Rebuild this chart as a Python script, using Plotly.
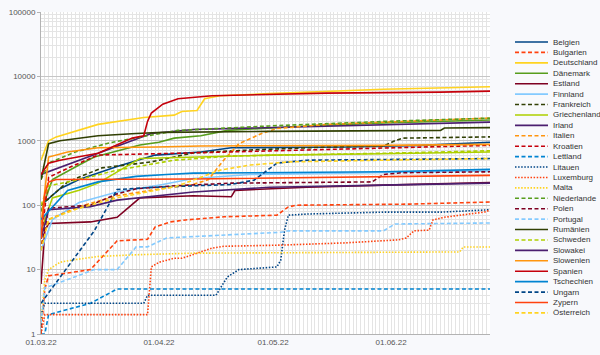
import plotly.graph_objects as go
from datetime import date, timedelta

START = date(2022, 3, 1)
END_DAY = 118


def dates(days):
    return [(START + timedelta(days=n)).isoformat() for n in days]


# ---- data (day offset from 01.03.22, value) ----
belgien_days = [0, 5, 10, 20, 30, 42, 50, 80, 100, 118]
belgien_vals = [100, 180, 250, 400, 600, 670, 780, 800, 850, 950]

bulgarien_days = [0, 1, 2, 13, 20, 28, 30, 34, 38, 48, 62, 65, 67, 97, 118]
bulgarien_vals = [1, 5, 8, 10, 28, 29.5, 46, 55, 59, 66, 70, 94, 100, 104, 112]

deutschland_days = [0, 2, 4, 15, 27, 35, 37, 41, 43, 47, 60, 75, 90, 118]
deutschland_vals = [500, 1000, 1150, 1800, 2300, 2500, 2850, 2950, 4500, 5000, 5400, 5900, 6300, 6900]

daenemark_days = [0, 3, 10, 14, 26, 31, 35, 42, 49, 70, 90, 118]
daenemark_vals = [80, 250, 420, 560, 860, 950, 1100, 1200, 1450, 1700, 1900, 2100]

estland_days = [0, 1, 2, 13, 20, 26, 40, 50, 51, 55, 70, 90, 118]
estland_vals = [6, 40, 52, 55, 65, 130, 140, 135, 170, 175, 190, 205, 225]

finnland_days = [0, 3, 10, 20, 32, 40, 55, 90, 118]
finnland_vals = [20, 60, 110, 160, 210, 260, 300, 320, 340]

frankreich_days = [0, 7, 16, 29, 40, 55, 75, 90, 93, 95, 118]
frankreich_vals = [100, 230, 380, 470, 650, 720, 800, 830, 1000, 1100, 1150]

griechenland_days = [0, 3, 10, 15, 26, 40, 60, 90, 118]
griechenland_vals = [40, 130, 170, 220, 530, 560, 600, 630, 670]

irland_days = [0, 29, 40, 60, 90, 118]
irland_vals = [300, 1300, 1500, 1600, 1800, 1950]

italien_days = [0, 2, 10, 20, 30, 40, 44, 48, 52, 58, 62, 75, 118]
italien_vals = [25, 60, 95, 140, 175, 210, 250, 500, 900, 1300, 1550, 1800, 2250]

kroatien_days = [0, 2, 8, 15, 40, 60, 90, 118]
kroatien_vals = [30, 270, 400, 600, 650, 700, 780, 850]

lettland_days = [0, 1.5, 2, 13, 20, 118]
lettland_vals = [1, 1, 2, 3, 5, 5]

litauen_days = [0, 0.5, 1, 27, 28, 46, 47, 49, 52, 62, 63, 64, 65, 70, 90, 105, 118]
litauen_vals = [1, 2, 3, 3, 4, 4, 5, 7.7, 10, 11, 14, 41, 70, 73, 78, 78, 85]

luxemburg_days = [0, 1, 28, 29, 31, 35, 37, 45, 48, 63, 80, 94, 96, 98, 102, 103, 106, 117, 118]
luxemburg_vals = [1, 2, 2, 11, 13, 15, 15, 21.6, 23, 24, 26, 29, 31, 40, 41, 59, 65, 79, 85]

malta_days = [0, 1, 2, 5, 8, 15, 25, 40, 110, 111, 118]
malta_vals = [1.5, 7, 10, 13, 14, 16, 17, 18, 18.8, 22.4, 22.4]

niederlande_days = [0, 2, 9, 18, 26, 36, 60, 90, 118]
niederlande_vals = [250, 450, 670, 930, 1140, 1450, 1700, 2000, 2250]

polen_days = [0, 2, 13, 20, 25, 35, 50, 87, 90, 95, 118]
polen_vals = [20, 90, 100, 150, 180, 200, 220, 230, 300, 320, 330]

portugal_days = [0, 1, 7, 14, 20, 25, 28, 33, 42, 63, 65, 90, 93, 118]
portugal_vals = [1.5, 5.2, 7, 10, 10, 22.5, 22.5, 31, 33, 38, 40, 40, 51, 53]

rumaenien_days = [0, 2, 5, 15, 25, 32, 60, 105, 106, 118]
rumaenien_vals = [250, 900, 1000, 1200, 1300, 1350, 1400, 1450, 1580, 1600]

schweden_days = [0, 2, 10, 20, 35, 50, 90, 118]
schweden_vals = [100, 200, 250, 350, 500, 580, 640, 700]

slowakei_days = [0, 2, 13, 20, 40, 60, 90, 118]
slowakei_vals = [30, 85, 95, 120, 160, 190, 205, 220]

slowenien_days = [0, 2, 7, 15, 30, 42, 90, 118]
slowenien_vals = [50, 560, 670, 780, 800, 830, 850, 880]

spanien_days = [0, 2, 5, 15, 24, 27, 28, 29, 32, 36, 45, 75, 105, 118]
spanien_vals = [300, 450, 500, 640, 1100, 1200, 2000, 2700, 3700, 4500, 5000, 5500, 5700, 5900]

tschechien_days = [0, 7, 15, 25, 33, 40, 90, 118]
tschechien_vals = [60, 170, 230, 280, 300, 315, 330, 360]

ungarn_days = [0, 14, 20, 30, 50, 56, 62, 70, 118]
ungarn_vals = [3, 40, 175, 190, 210, 245, 450, 500, 530]

zypern_days = [0, 1, 2, 4, 40, 80, 118]
zypern_vals = [30, 150, 230, 250, 255, 270, 290]

oesterreich_days = [0, 2, 10, 20, 36, 47, 55, 65, 90, 118]
oesterreich_vals = [20, 60, 90, 130, 200, 350, 420, 470, 500, 530]

countries = ["Belgien", "Bulgarien", "Deutschland", "Dänemark", "Estland", "Finnland",
             "Frankreich", "Griechenland", "Irland", "Italien", "Kroatien", "Lettland",
             "Litauen", "Luxemburg", "Malta", "Niederlande", "Polen", "Portugal",
             "Rumänien", "Schweden", "Slowakei", "Slowenien", "Spanien", "Tschechien",
             "Ungarn", "Zypern", "Österreich"]

series = [
    (belgien_days, belgien_vals), (bulgarien_days, bulgarien_vals),
    (deutschland_days, deutschland_vals), (daenemark_days, daenemark_vals),
    (estland_days, estland_vals), (finnland_days, finnland_vals),
    (frankreich_days, frankreich_vals), (griechenland_days, griechenland_vals),
    (irland_days, irland_vals), (italien_days, italien_vals),
    (kroatien_days, kroatien_vals), (lettland_days, lettland_vals),
    (litauen_days, litauen_vals), (luxemburg_days, luxemburg_vals),
    (malta_days, malta_vals), (niederlande_days, niederlande_vals),
    (polen_days, polen_vals), (portugal_days, portugal_vals),
    (rumaenien_days, rumaenien_vals), (schweden_days, schweden_vals),
    (slowakei_days, slowakei_vals), (slowenien_days, slowenien_vals),
    (spanien_days, spanien_vals), (tschechien_days, tschechien_vals),
    (ungarn_days, ungarn_vals), (zypern_days, zypern_vals),
    (oesterreich_days, oesterreich_vals),
]

y_tick_vals = [1, 10, 100, 1000, 10000, 100000]
y_tick_text = ["1", "10", "100", "1000", "10000", "100000"]

# ---- styles ----
palette = ["#004586", "#ff420e", "#ffd320", "#579d1c", "#7e0021", "#83caff",
           "#314004", "#aecf00", "#4b1f6f", "#ff950e", "#c5000b", "#0084d1"]
DASH = "4px,2.5px"
DOT = "1.5px,1.6px"
styles = ["solid", DASH, "solid", "solid", "solid", "solid",
          DASH, "solid", "solid", DASH, DASH, DASH,
          DOT, DOT, DOT, DASH, DASH, DASH,
          "solid", DASH, "solid", "solid", "solid", "solid",
          DASH, "solid", DASH]

PAPER = "#f8f9fc"

fig = go.Figure()
for i, (name, (dd, vv)) in enumerate(zip(countries, series)):
    col = palette[i % 12]
    fig.add_trace(go.Scatter(x=dates(dd), y=vv, mode="lines", name=name,
                             line=dict(color=col, width=1.6, dash=styles[i]),
                             showlegend=False, xaxis="x", yaxis="y"))

# manual legend on a helper axis (plotly legend rows cannot be this tight)
for i, name in enumerate(countries):
    col = palette[i % 12]
    fig.add_trace(go.Scatter(x=[0, 33], y=[i, i], mode="lines",
                             line=dict(color=col, width=1.6, dash=styles[i]),
                             showlegend=False, hoverinfo="skip",
                             xaxis="x2", yaxis="y2"))
    fig.add_annotation(x=36, y=i, xref="x2", yref="y2", text=name,
                       showarrow=False, xanchor="left", yanchor="middle",
                       font=dict(family="Liberation Sans, Arial, sans-serif",
                                 size=8, color="#333333"))

PLOT_W = 449 / 559
GRID_MINOR = "#e4e4e4"
GRID_MAJOR = "#c6c6c6"

minor_y = [k * 10 ** e for e in range(5) for k in range(2, 10)]

# white wall behind the main plot only
fig.add_shape(type="rect", xref="x domain", yref="y domain", x0=0, x1=1, y0=0, y1=1,
              fillcolor="#ffffff", line=dict(width=0), layer="below")

fig.update_layout(
    width=600, height=355,
    margin=dict(l=41, r=0, t=12, b=21),
    paper_bgcolor=PAPER,
    plot_bgcolor=PAPER,
    font=dict(family="Liberation Sans, Arial, sans-serif", size=8, color="#555555"),
    xaxis=dict(domain=[0, PLOT_W], type="date",
               range=[dates([0])[0], dates([END_DAY])[0]],
               tickformat="%d.%m.%y", dtick="M1", tick0="2022-03-01",
               showgrid=True, gridcolor=GRID_MINOR, gridwidth=1,
               minor=dict(dtick=86400000, showgrid=True, gridcolor=GRID_MINOR, gridwidth=1),
               showline=True, linecolor="#b3b3b3", linewidth=1,
               ticks="", tickfont=dict(size=8, color="#555555"),
               zeroline=False, fixedrange=True),
    yaxis=dict(type="log", range=[0, 5],
               tickmode="array", tickvals=y_tick_vals, ticktext=y_tick_text,
               showgrid=True, gridcolor=GRID_MAJOR, gridwidth=1,
               minor=dict(tickmode="array", tickvals=minor_y, showgrid=True,
                          gridcolor=GRID_MINOR, gridwidth=1),
               showline=True, linecolor="#b3b3b3", linewidth=1,
               ticks="outside", ticklen=3, tickcolor="#b3b3b3",
               tickfont=dict(size=8, color="#555555"),
               zeroline=False, fixedrange=True),
    xaxis2=dict(domain=[(515 - 41) / 559, 1.0], range=[0, 85], visible=False,
                fixedrange=True),
    yaxis2=dict(domain=[0, 1], anchor="x2", range=[(334 - 42) / 10.42, (12 - 42) / 10.42],
                visible=False, fixedrange=True),
)

fig.write_html("out.html", config={"displayModeBar": False},
               post_script="document.body.style.margin='0';document.body.style.overflow='hidden';")
